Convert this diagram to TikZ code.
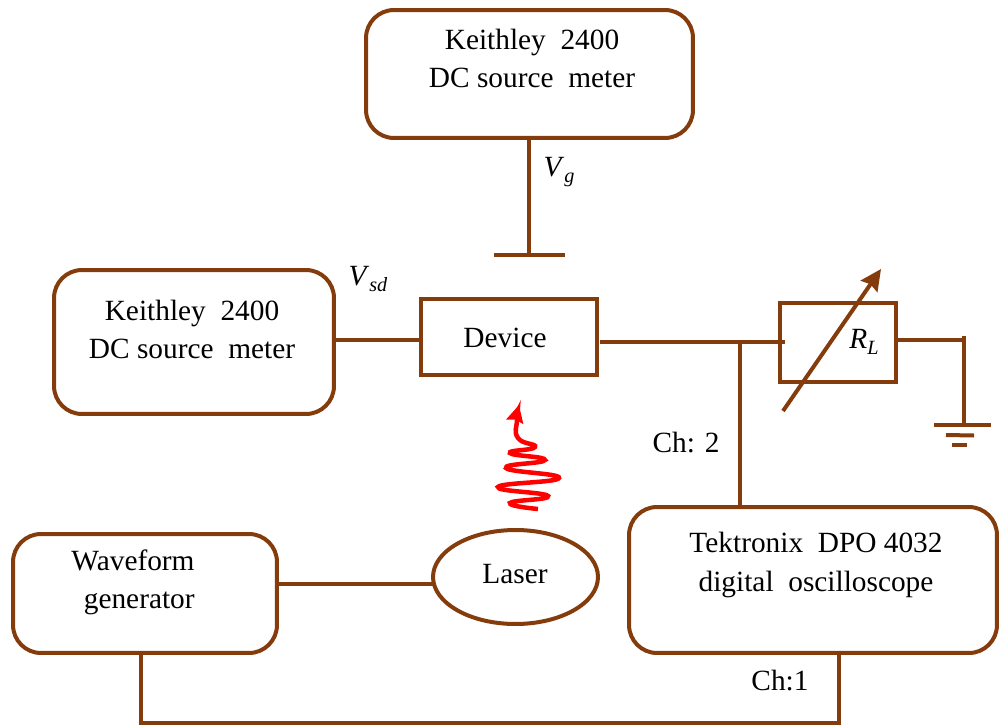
\documentclass[tikz,border=0pt]{standalone}
\usepackage{fontspec}
\setmainfont{Liberation Serif}
\usetikzlibrary{shapes.geometric, arrows.meta, positioning}
\definecolor{WireBrown}{HTML}{843C0C}
\newcommand{\subvar}[2]{\textit{#1}\raisebox{-0.45ex}{\fontsize{11.5}{11.5}\selectfont\textit{#2}}}
\tikzset{
  meterbox/.style={rectangle, rounded corners=0.56cm, draw=WireBrown, line width=0.8mm, inner sep=0pt, outer sep=0pt},
  plainbox/.style={rectangle, draw=WireBrown, line width=0.8mm, inner sep=0pt, outer sep=0pt},
  laserbox/.style={ellipse, draw=WireBrown, line width=0.8mm, inner sep=0pt, outer sep=0pt, minimum width=3.3cm, minimum height=1.88cm},
  boxtext/.style={font=\fontsize{16.7}{21.6}\selectfont, align=center, inner sep=0pt},
  wire/.style={draw=WireBrown, line width=0.8mm},
  tuning/.style={draw=WireBrown, line width=0.8mm, -{Stealth[inset=0.5mm, length=4.2mm, width=4mm]}},
  lightray/.style={draw=red, line width=0.9mm, -{Stealth[inset=0.4mm, length=3.4mm, width=3.4mm]}}
}
\begin{document}
\begin{tikzpicture}[x=0.02cm, y=-0.02cm]
  \useasboundingbox (0,0) rectangle (999,726);

  % instruments
  \node[meterbox, minimum width=6.54cm, minimum height=2.56cm] (topmeter) at (529.5,74) {};
  \node[boxtext] (toptext) at (532,58) {Keithley\ \ 2400\\DC source\ \ meter};
  \node[meterbox, minimum width=5.6cm, minimum height=2.88cm] (leftmeter) at (194,342) {};
  \node[boxtext] (lefttext) at (192,329) {Keithley\ \ 2400\\DC source\ \ meter};
  \node[plainbox, minimum width=3.52cm, minimum height=1.52cm] (device) at (509,337) {};
  \node[boxtext] (devicetext) at (505,338) {Device};
  \node[plainbox, minimum width=2.32cm, minimum height=1.58cm] (load) at (838,342.5) {};
  \node[boxtext] (loadtext) at (864,342) {\subvar{R}{L}};
  \node[meterbox, minimum width=5.28cm, minimum height=2.38cm] (wavegen) at (145,593.5) {};
  \node[boxtext] (wavetext) at (133,582) {Waveform\\\hspace*{0.25cm}generator};
  \node[laserbox] (laser) at (515.5,577) {};
  \node[boxtext] (lasertext) at (515,574) {Laser};
  \node[meterbox, minimum width=7.36cm, minimum height=2.92cm] (scope) at (813,580) {};
  \node[boxtext, font=\fontsize{16.7}{22.4}\selectfont] (scopetext) at (816,565) {Tektronix\ \ DPO 4032\\digital\ \ oscilloscope};

  % free labels
  \node[boxtext] (vg) at (559,172) {\subvar{V}{g}};
  \node[boxtext] (vsd) at (368,279) {\subvar{V}{sd}};
  \node[boxtext] (chtwo) at (686,443) {Ch: 2};
  \node[boxtext] (chone) at (780,681) {Ch:1};

  % points the wires turn at
  \coordinate (gateleft) at (494,255);
  \coordinate (gateright) at (565,255);
  \coordinate (gatemid) at (529,255);
  \coordinate (vsdin) at (421,340);
  \coordinate (outstart) at (600,342);
  \coordinate (outend) at (785,342);
  \coordinate (chtap) at (740,342);
  \coordinate (gndtop) at (964,336);
  \coordinate (gndfoot) at (964,423);
  \coordinate (wavedown) at (141,723);
  \coordinate (scopedown) at (839,723);
  \coordinate (laserline) at (433,584);
  \coordinate (tunestart) at (783,411);
  \coordinate (tuneend) at (881,269);

  \draw[wire] (topmeter.south -| gatemid) -- (gatemid);
  \draw[wire] (gateleft) -- (gateright);
  \draw[wire] (leftmeter.east |- vsdin) -- (device.west |- vsdin);
  \draw[wire] (outstart) -- (outend);
  \draw[wire] (chtap) -- (chtap |- scope.north);
  \draw[wire] (load.east |- 0,340) -- (964,340);
  \draw[wire] (gndtop) -- (gndfoot);
  \draw[wire] (wavegen.east |- laserline) -- (laser.west |- laserline);
  \draw[wire] (wavegen.south -| wavedown) -- (wavedown) -- (scopedown) -- (scope.south -| scopedown);

  % ground
  \coordinate (gnda) at (934,425);
  \coordinate (gndb) at (946,435);
  \coordinate (gndc) at (952,445);
  \draw[wire] (gnda) -- ++(57,0);
  \draw[wire] (gndb) -- ++(28,0.5);
  \draw[wire] (gndc) -- ++(15,0);

  \draw[tuning] (tunestart) -- (tuneend);

  % light
  \draw[lightray] plot[smooth, tension=0.9] coordinates {(538,509) (510,503) (548,496) (498,487) (559,478) (506,468) (545,460) (510,453) (535,447) (518,438) (517,420) (519,405)};
\end{tikzpicture}
\end{document}
